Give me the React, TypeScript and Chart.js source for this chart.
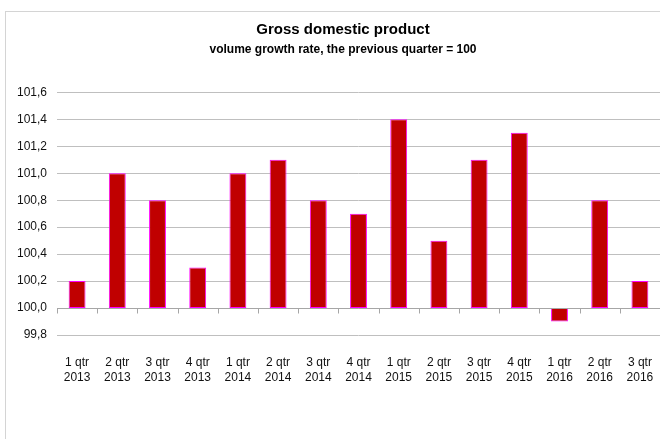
import React, { useEffect, useRef } from "react";
import { Chart, registerables } from "chart.js";

Chart.register(...registerables);

const quarters = ["1 qtr", "2 qtr", "3 qtr", "4 qtr", "1 qtr", "2 qtr", "3 qtr", "4 qtr", "1 qtr", "2 qtr", "3 qtr", "4 qtr", "1 qtr", "2 qtr", "3 qtr"];
const years = ["2013", "2013", "2013", "2013", "2014", "2014", "2014", "2014", "2015", "2015", "2015", "2015", "2016", "2016", "2016"];
const gdpIndex = [100.2, 101.0, 100.8, 100.3, 101.0, 101.1, 100.8, 100.7, 101.4, 100.5, 101.1, 101.3, 99.9, 100.8, 100.2];
const baseValue = 100;
const yMin = 99.8;
const yMax = 101.6;
const yStep = 0.2;

const FONT = "'Liberation Sans', Arial, sans-serif";

const baseAxisPlugin = {
  id: "baseAxis",
  afterDatasetsDraw(chart: any) {
    const { ctx, scales } = chart;
    const x = scales.x;
    const y = scales.y;
    const yp = Math.round(y.getPixelForValue(baseValue)) + 0.5;
    const n = chart.data.labels.length;
    const w = (x.right - x.left) / n;
    ctx.save();
    ctx.strokeStyle = "#a6a6a6";
    ctx.lineWidth = 1;
    ctx.beginPath();
    ctx.moveTo(x.left, yp);
    ctx.lineTo(x.right, yp);
    for (let i = 0; i <= n; i++) {
      const xp = Math.round(x.left + i * w) + 0.5;
      ctx.moveTo(xp, yp);
      ctx.lineTo(xp, yp + 5);
    }
    ctx.stroke();
    ctx.restore();
  },
};

export default function App() {
  const ref = useRef<HTMLCanvasElement | null>(null);

  useEffect(() => {
    if (!ref.current) return;
    const labels = quarters.map((q, i) => [q, years[i]]);
    const chart = new Chart(ref.current, {
      type: "bar",
      data: {
        labels,
        datasets: [
          {
            data: gdpIndex.map((v) => [baseValue, v]) as any,
            backgroundColor: "#c00000",
            borderColor: "#ff00ff",
            borderWidth: 1,
            borderSkipped: false,
            barPercentage: 0.42,
            categoryPercentage: 1,
          },
        ],
      },
      options: {
        animation: false,
        responsive: true,
        maintainAspectRatio: false,
        layout: { padding: { left: 0, right: 0, top: 0, bottom: 54 } },
        plugins: {
          legend: { display: false },
          tooltip: { enabled: false },
          title: {
            display: true,
            text: "Gross domestic product",
            color: "#000",
            font: { family: FONT, size: 15, weight: "bold", lineHeight: 1.2 },
            padding: { top: 9, bottom: 3 },
          },
          subtitle: {
            display: true,
            text: "volume growth rate, the previous quarter = 100",
            color: "#000",
            font: { family: FONT, size: 12, weight: "bold", lineHeight: 1.2 },
            padding: { top: 0, bottom: 36 },
          },
        },
        scales: {
          x: {
            offset: true,
            grid: { display: false },
            border: { display: false },
            ticks: {
              color: "#111",
              font: { family: FONT, size: 12, lineHeight: 1.25 },
              padding: 12,
              maxRotation: 0,
              autoSkip: false,
            },
            afterFit(scale: any) {
              scale.height = 50;
            },
          },
          y: {
            min: yMin,
            max: yMax,
            border: { display: false },
            grid: { color: "#bfbfbf", lineWidth: 1, drawTicks: false },
            ticks: {
              stepSize: yStep,
              color: "#111",
              padding: 10,
              font: { family: FONT, size: 12 },
              callback: (v: any) => Number(v).toFixed(1).replace(".", ","),
            },
            afterFit(scale: any) {
              scale.width = 52;
            },
          },
          yRight: {
            position: "right",
            min: yMin,
            max: yMax,
            border: { display: false },
            grid: { display: false, drawOnChartArea: false },
            ticks: { display: false },
            afterFit(scale: any) {
              scale.width = 21;
            },
          },
        },
      },
      plugins: [baseAxisPlugin],
    });
    return () => chart.destroy();
  }, []);

  return (
    <div style={{ position: "fixed", left: 0, top: 0, width: 660, height: 439, overflow: "hidden", background: "#fff" }}>
      <div style={{ position: "absolute", left: 5, top: 11, width: 700, height: 480, border: "1px solid #d4d4d4", boxSizing: "border-box" }} />
      <div style={{ position: "absolute", left: 5, top: 12, width: 676, height: 427 }}>
        <canvas ref={ref} />
      </div>
    </div>
  );
}
